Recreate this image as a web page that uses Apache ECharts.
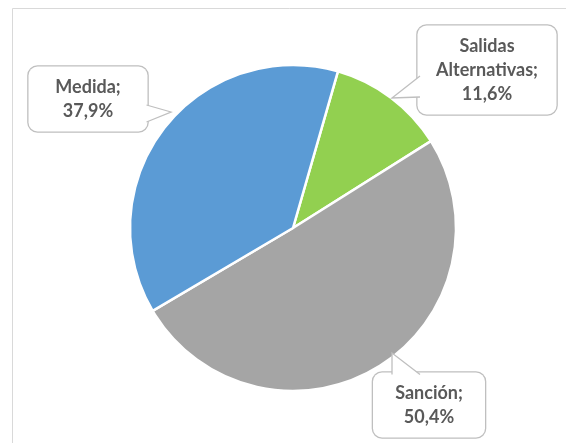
<!DOCTYPE html>
<html><head><meta charset="utf-8">
<script src="https://cdn.jsdelivr.net/npm/echarts@6/dist/echarts.min.js"></script>
<style>html,body{margin:0;padding:0;background:#fff}#c{width:566px;height:443px}</style>
</head><body><div id="c"></div>
<script>
const categories = ['Salidas\nAlternativas', 'Sanción', 'Medida'];
const values = [11.6, 50.4, 37.9];
const colors = ['#92D050', '#A5A5A5', '#5B9BD5'];
// label box centres (layout only)
const labelPos = [[487, 70], [429, 405], [88, 99]];
const labelSize = [[139, 94], [112, 65], [119, 65]];
// callout pointer shapes (decoration only): base A, tip, base B
const pointers = [
  [[420, 76], [392, 98], [420, 97]],
  [[392, 374.5], [392, 353], [420, 374.5]],
  [[146.5, 105], [171, 112], [146.5, 122]]
];

const chart = echarts.init(document.getElementById('c'), null, {renderer: 'canvas'});
const graphics = [{type: 'rect', shape: {x: 12.5, y: 8.5, width: 700, height: 600},
    style: {fill: 'none', stroke: '#d9d9d9', lineWidth: 1}, silent: true}];
pointers.forEach(pts => {
  graphics.push({type: 'polygon', z: 100, shape: {points: pts}, style: {fill: '#fff', stroke: null}, silent: true});
  graphics.push({type: 'polyline', z: 101, shape: {points: pts}, style: {fill: null, stroke: '#bfbfbf', lineWidth: 1.3}, silent: true});
});
chart.setOption({
  animation: false,
  graphic: graphics,
  series: [{
    type: 'pie',
    center: [293, 228],
    radius: [0, 163],
    startAngle: 74,
    clockwise: true,
    itemStyle: {borderColor: '#fff', borderWidth: 2.5},
    data: categories.map((c, i) => ({name: c, value: values[i], itemStyle: {color: colors[i]},
      label: {width: labelSize[i][0], height: labelSize[i][1] - (i === 0 ? 22 : 17)}})),
    label: {
      show: true,
      formatter: p => p.name + ';\n' + p.value.toFixed(1).replace('.', ',') + '%',
      fontFamily: 'Lato', fontWeight: 'bold', fontSize: 18, color: '#595959',
      lineHeight: 24, align: 'center', verticalAlign: 'middle',
      backgroundColor: '#fff', borderColor: '#bfbfbf', borderWidth: 1.3, borderRadius: 9,
      padding: [11, 0, 6, 0]
    },
    labelLine: {show: false},
    labelLayout: p => ({x: labelPos[p.dataIndex][0], y: labelPos[p.dataIndex][1], align: 'center', verticalAlign: 'middle'})
  }]
});
</script></body></html>
